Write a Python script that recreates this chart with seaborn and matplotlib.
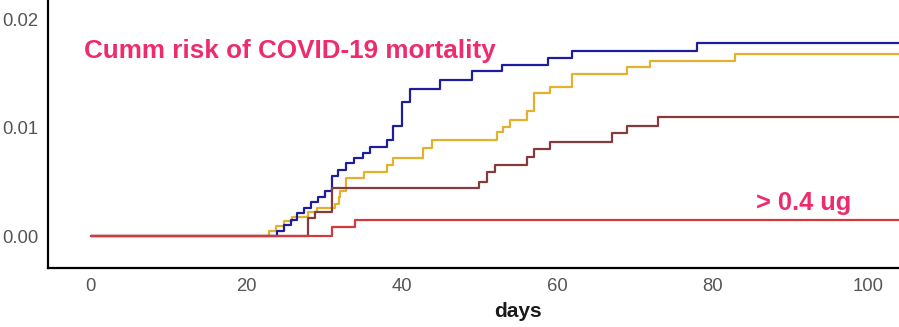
import matplotlib
matplotlib.use("Agg")
import matplotlib.pyplot as plt
import seaborn as sns
import pandas as pd

# ---- data ----
blue_days = [0, 24.0, 24.9, 25.8, 26.6, 27.5, 28.4, 29.3, 30.1, 31.0, 31.8, 32.9, 33.9, 35.0,
             35.9, 38.1, 38.9, 40.0, 41.1, 45.0, 49.0, 52.9, 58.9, 61.9, 78.0, 105]
blue_risk = [0, 0.0005, 0.0010, 0.0015, 0.0021, 0.0026, 0.0031, 0.0036, 0.0042, 0.0055, 0.0061,
             0.0067, 0.0072, 0.0077, 0.0082, 0.0089, 0.0102, 0.0124, 0.0136, 0.0144, 0.0152,
             0.0158, 0.0164, 0.0171, 0.0178, 0.0178]

yellow_days = [0, 22.9, 23.9, 24.9, 25.9, 28.0, 29.1, 31.4, 31.9, 32.1, 32.9, 35.1, 38.1, 38.9,
               42.8, 43.9, 52.3, 53.1, 54.0, 56.1, 57.0, 59.1, 61.9, 69.0, 72.0, 82.9, 105]
yellow_risk = [0, 0.0005, 0.0009, 0.0014, 0.0018, 0.0022, 0.0026, 0.0030, 0.0036, 0.0042, 0.0054,
               0.0059, 0.0066, 0.0072, 0.0081, 0.0089, 0.0096, 0.0101, 0.0107, 0.0115, 0.0132,
               0.0138, 0.0150, 0.0156, 0.0162, 0.0168, 0.0168]

maroon_days = [0, 27.9, 28.9, 31.0, 49.9, 51.0, 52.0, 56.1, 57.0, 59.1, 67.1, 69.0, 73.0, 105]
maroon_risk = [0, 0.0017, 0.0022, 0.0044, 0.0050, 0.0059, 0.0066, 0.0073, 0.0080, 0.0087,
               0.0095, 0.0102, 0.0110, 0.0110]

red_days = [0, 31.0, 34.0, 105]
red_risk = [0, 0.0008, 0.0015, 0.0015]

groups = ["group 2", "group 1", "group 3", "> 0.4 ug"]
colors = ["#E3B12E", "#1E1E9C", "#873A3C", "#D23A40"]

x_ticks = [0, 20, 40, 60, 80, 100]
y_ticks = [0.00, 0.01, 0.02]
y_tick_labels = ["0.00", "0.01", "0.02"]

title_text = "Cumm risk of COVID-19 mortality"
note_text = "> 0.4 ug"
x_label = "days"

frames = []
for g, d, r in zip(groups,
                   [yellow_days, blue_days, maroon_days, red_days],
                   [yellow_risk, blue_risk, maroon_risk, red_risk]):
    frames.append(pd.DataFrame({"day": d, "risk": r, "group": g}))
df = pd.concat(frames, ignore_index=True)

sns.set_style("white")
plt.rcParams["font.family"] = ["Liberation Sans", "DejaVu Sans"]

fig = plt.figure(figsize=(8.99, 3.27), dpi=100)
W, H = 899, 327
left_px, bottom_px = 48.3, 268.3
ax = fig.add_axes([left_px / W, 1 - bottom_px / H, 1 - left_px / W, bottom_px / H])

sns.lineplot(data=df, x="day", y="risk", hue="group", hue_order=groups,
             palette=dict(zip(groups, colors)), drawstyle="steps-post",
             estimator=None, sort=False, linewidth=1.6, legend=False, ax=ax)

ax.set_xlim(-5.46, 104.0)
ax.set_ylim(-0.00298, 0.02179)
ax.set_xticks(x_ticks)
ax.set_yticks(y_ticks)
ax.set_yticklabels(y_tick_labels)

for s in ["top", "right"]:
    ax.spines[s].set_visible(False)
for s in ["left", "bottom"]:
    ax.spines[s].set_color("black")
    ax.spines[s].set_linewidth(1.6)

ax.tick_params(axis="both", length=3.2, width=1.1, color="#333333",
               labelcolor="#555555", labelsize=13.3, pad=4)

ax.set_ylabel("")
ax.set_xlabel(x_label, fontsize=15, fontweight="bold", color="#1a1a1a")
ax.xaxis.set_label_coords((518 - left_px) / (W - left_px), -0.125)

ax.text(-0.86, 0.01644, title_text, fontsize=18.7, fontweight="bold",
        color="#EE2C6C", va="baseline", ha="left")
ax.text(85.6, 0.0024, note_text, fontsize=18.3, fontweight="bold",
        color="#EE2C6C", va="baseline", ha="left")

fig.savefig("out.png", dpi=100)
